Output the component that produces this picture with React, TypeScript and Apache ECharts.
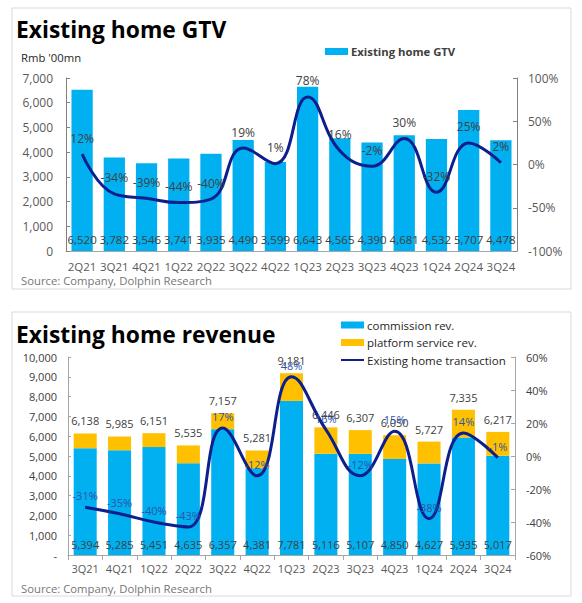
import React, { useEffect, useRef } from "react";
import * as echarts from "echarts";

// ---- Chart 1: Existing home GTV ----
const gtvCategories = ["2Q21", "3Q21", "4Q21", "1Q22", "2Q22", "3Q22", "4Q22", "1Q23", "2Q23", "3Q23", "4Q23", "1Q24", "2Q24", "3Q24"];
const gtvValues = [6520, 3782, 3546, 3741, 3935, 4490, 3599, 6643, 4565, 4390, 4681, 4532, 5707, 4478];
const gtvYoY = [12, -34, -39, -44, -40, 19, 1, 78, 16, -2, 30, -32, 25, 2];

// ---- Chart 2: Existing home revenue ----
const revCategories = ["3Q21", "4Q21", "1Q22", "2Q22", "3Q22", "4Q22", "1Q23", "2Q23", "3Q23", "4Q23", "1Q24", "2Q24", "3Q24"];
const commissionRev = [5394, 5285, 5451, 4635, 6357, 4381, 7781, 5116, 5107, 4850, 4627, 5935, 5017];
const platformRev = [744, 700, 700, 900, 800, 900, 1400, 1330, 1200, 1200, 1100, 1400, 1200];
const revTotals = [6138, 5985, 6151, 5535, 7157, 5281, 9181, 6446, 6307, 6050, 5727, 7335, 6217];
const transactionYoY = [-31, -35, -40, -43, 17, -12, 48, 16, -12, 15, -38, 14, -1];

const FONT = "'Open Sans', 'Noto Sans', sans-serif";
const BLUE = "#00B0F0";
const YELLOW = "#FFC000";
const NAVY = "#0D1F8C";
const AXIS = "#A6A6A6";
const LABEL = "#595959";
const fmt = (v: number) => v.toLocaleString("en-US");

export default function App() {
  const ref = useRef<HTMLDivElement>(null);
  useEffect(() => {
    if (!ref.current) return;
    const chart = echarts.init(ref.current, null, { renderer: "svg" });
    chart.setOption({
      animation: false,
      backgroundColor: "#ffffff",
      textStyle: { fontFamily: FONT },
      graphic: [
        { type: "rect", shape: { x: 12, y: 8, width: 559, height: 281 }, style: { fill: "none", stroke: "#D9D9D9", lineWidth: 1 } },
        { type: "rect", shape: { x: 12, y: 312, width: 559, height: 284 }, style: { fill: "none", stroke: "#D9D9D9", lineWidth: 1 } },
        { type: "text", x: 16, y: 29, style: { text: "Existing home GTV", font: `bold 22.8px ${FONT}`, fill: "#000", textVerticalAlign: "middle" } },
        { type: "text", x: 16, y: 334, style: { text: "Existing home revenue", font: `bold 22.8px ${FONT}`, fill: "#000", textVerticalAlign: "middle" } },
        { type: "text", x: 21, y: 57, style: { text: "Rmb '00mn", font: `11.3px ${FONT}`, fill: "#262626", textVerticalAlign: "middle" } },
        { type: "text", x: 21, y: 280, style: { text: "Source: Company, Dolphin Research", font: `11.3px ${FONT}`, fill: "#767676", textVerticalAlign: "middle" } },
        { type: "text", x: 21, y: 588, style: { text: "Source: Company, Dolphin Research", font: `11.3px ${FONT}`, fill: "#767676", textVerticalAlign: "middle" } },
      ],
      legend: [
        {
          left: 320, top: 41, itemWidth: 23, itemHeight: 7,
          data: ["Existing home GTV"],
          icon: "rect",
          textStyle: { fontFamily: FONT, fontSize: 11.3, fontWeight: "bold", color: "#404040", padding: [0, 0, 0, -2] },
        },
        {
          left: 335, top: 314, orient: "vertical", itemWidth: 23, itemHeight: 7, itemGap: 5.5,
          data: [
            { name: "commission rev.", icon: "rect" },
            { name: "platform service rev.", icon: "rect" },
            { name: "Existing home transaction", itemStyle: { opacity: 0 } },
          ],
          textStyle: { fontFamily: FONT, fontSize: 11.5, color: "#262626", padding: [0, 0, 0, -2] },
        },
      ],
      grid: [
        { left: 66, right: 65, top: 78, height: 173 },
        { left: 68, right: 67, top: 357, height: 198 },
      ],
      xAxis: [
        {
          type: "category", gridIndex: 0, data: gtvCategories,
          axisLine: { lineStyle: { color: AXIS } }, axisTick: { show: false },
          axisLabel: { interval: 0, color: LABEL, fontSize: 11.5, margin: 9, fontFamily: FONT },
        },
        {
          type: "category", gridIndex: 1, data: revCategories,
          axisLine: { lineStyle: { color: AXIS } }, axisTick: { show: true, length: 5, lineStyle: { color: AXIS } },
          axisLabel: { interval: 0, color: LABEL, fontSize: 11, margin: 8, fontFamily: FONT },
        },
      ],
      yAxis: [
        {
          type: "value", gridIndex: 0, min: 0, max: 7000, interval: 1000,
          axisLine: { show: true, lineStyle: { color: "#808080" } },
          axisTick: { show: true, inside: true, length: 4, lineStyle: { color: "#808080" } },
          splitLine: { show: false },
          axisLabel: { color: LABEL, fontSize: 12, margin: 13, formatter: (v: number) => fmt(v), fontFamily: FONT },
        },
        {
          type: "value", gridIndex: 0, min: -100, max: 100, interval: 50, position: "right",
          axisLine: { show: true, lineStyle: { color: "#808080" } },
          axisTick: { show: true, inside: true, length: 4, lineStyle: { color: "#808080" } },
          splitLine: { show: false },
          axisLabel: { color: LABEL, fontSize: 12, margin: 11, formatter: "{value}%", fontFamily: FONT },
        },
        {
          type: "value", gridIndex: 1, min: 0, max: 10000, interval: 1000,
          axisLine: { show: true, lineStyle: { color: AXIS } },
          axisTick: { show: true, inside: true, length: 3, lineStyle: { color: AXIS } },
          splitLine: { show: false },
          axisLabel: { color: "#404040", fontSize: 11, margin: 11, formatter: (v: number) => (v === 0 ? "-" : fmt(v)), fontFamily: FONT },
        },
        {
          type: "value", gridIndex: 1, min: -60, max: 60, interval: 20, position: "right",
          axisLine: { show: true, lineStyle: { color: AXIS } },
          axisTick: { show: true, inside: true, length: 4, lineStyle: { color: AXIS } },
          splitLine: { show: false },
          axisLabel: { color: "#404040", fontSize: 11, margin: 11, formatter: "{value}%", fontFamily: FONT },
        },
      ],
      series: [
        {
          name: "Existing home GTV", type: "bar", xAxisIndex: 0, yAxisIndex: 0, data: gtvValues,
          barWidth: "66%", itemStyle: { color: BLUE },
          label: { show: true, position: "insideBottom", distance: 6, color: "#404040", fontSize: 11.5, fontFamily: FONT, formatter: (p: any) => fmt(p.value) },
        },
        {
          name: "GTV YoY", type: "line", xAxisIndex: 0, yAxisIndex: 1, data: gtvYoY,
          smooth: 0.45, symbol: "circle", symbolSize: 0.1,
          lineStyle: { color: NAVY, width: 3 }, itemStyle: { color: NAVY },
          label: { show: true, position: "top", distance: 10, color: "#404040", fontSize: 12, fontFamily: FONT, formatter: "{c}%" },
          z: 5,
        },
        {
          name: "commission rev.", type: "bar", stack: "rev", xAxisIndex: 1, yAxisIndex: 2, data: commissionRev,
          barWidth: "67%", itemStyle: { color: BLUE },
          label: { show: true, position: "insideBottom", distance: 5, color: "#404040", fontSize: 11, fontFamily: FONT, formatter: (p: any) => fmt(p.value) },
        },
        {
          name: "platform service rev.", type: "bar", stack: "rev", xAxisIndex: 1, yAxisIndex: 2, data: platformRev,
          barWidth: "67%", itemStyle: { color: YELLOW },
          label: { show: true, position: "top", distance: 7, color: "#404040", fontSize: 11, fontFamily: FONT, formatter: (p: any) => fmt(revTotals[p.dataIndex]) },
        },
        {
          name: "Existing home transaction", type: "line", xAxisIndex: 1, yAxisIndex: 3, data: transactionYoY,
          smooth: 0.45, symbol: "circle", symbolSize: 0.1,
          lineStyle: { color: NAVY, width: 3 }, itemStyle: { color: NAVY },
          label: { show: true, position: "top", distance: 6, color: "#2E54A8", fontSize: 11, fontFamily: FONT, formatter: "{c}%" },
          z: 5,
        },
      ],
    });
    return () => chart.dispose();
  }, []);
  return <div ref={ref} style={{ position: "fixed", left: 0, top: 0, width: 582, height: 603, background: "#fff" }} />;
}
